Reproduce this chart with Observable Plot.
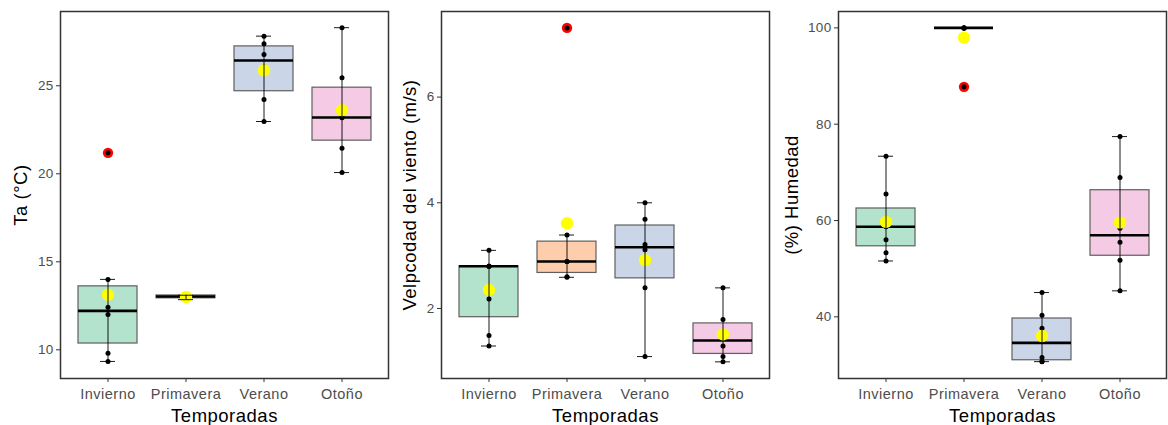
<!DOCTYPE html>
<html>
<head>
<meta charset="utf-8">
<script src="https://cdn.jsdelivr.net/npm/d3@7"></script>
<script src="https://cdn.jsdelivr.net/npm/@observablehq/plot@0.6"></script>
<style>
  html, body { margin: 0; padding: 0; background: #fff; }
  #row { display: flex; flex-direction: row; width: 1168px; height: 425px; }
  svg { font-family: "Liberation Sans", Arial, sans-serif; }
  [aria-label="x-axis tick label"] text { fill: #4d4d4d; font-size: 14.5px; letter-spacing: 0.5px; }
  [aria-label="y-axis tick label"] text { fill: #4d4d4d; font-size: 13.5px; letter-spacing: 0.3px; }
  [aria-label="x-axis tick"] path, [aria-label="y-axis tick"] path { stroke: #333; }
  [aria-label="x-axis label"] text, [aria-label="y-axis label"] text { fill: #000; font-size: 18.5px; letter-spacing: 0.5px; }
</style>
</head>
<body>
<div id="row"></div>
<script>
const seasons = ["Invierno", "Primavera", "Verano", "Otoño"];
const pastel = ["#b3e2cd", "#fdcdac", "#cbd5e8", "#f4cae4"];

// Ta (°C)
const taInvierno = [9.34, 9.81, 12.0, 12.42, 14.0, 21.19];
const taPrimavera = [12.85, 12.9, 13.0, 13.05, 13.1, 13.1];
const taVerano = [22.97, 24.22, 26.1, 26.78, 27.39, 27.82];
const taOtono = [20.07, 21.45, 23.18, 23.22, 25.45, 28.3];

// Velocidad del viento (m/s)
const vvInvierno = [1.29, 1.49, 2.18, 2.8, 2.8, 2.8, 3.1];
const vvPrimavera = [2.59, 2.6, 2.89, 2.89, 3.39, 7.31];
const vvVerano = [1.09, 2.39, 3.11, 3.21, 3.69, 4.0];
const vvOtono = [0.99, 1.09, 1.29, 1.5, 1.79, 2.39];

// Humedad (%)
const huInvierno = [51.6, 53.3, 56.0, 58.7, 59.5, 65.5, 73.35];
const huPrimavera = [87.75, 100, 100, 100, 100, 100];
const huVerano = [30.7, 30.8, 31.55, 37.64, 40.33, 45.05];
const huOtono = [45.4, 51.75, 55.5, 58.4, 68.92, 77.43];

const taTicks = [10, 15, 20, 25];
const vvTicks = [2, 4, 6];
const huTicks = [40, 60, 80, 100];

function build(groups) {
  const raw = [];
  const st = [];
  const out = [];
  seasons.forEach((s, i) => {
    const v = d3.sort(groups[i]);
    v.forEach(y => raw.push({season: s, y}));
    const q1 = d3.quantile(v, 0.25), med = d3.quantile(v, 0.5), q3 = d3.quantile(v, 0.75);
    const iqr = q3 - q1;
    const inside = v.filter(y => y >= q1 - 1.5 * iqr && y <= q3 + 1.5 * iqr);
    const lo = d3.min(inside), hi = d3.max(inside);
    v.filter(y => y < lo || y > hi).forEach(y => out.push({season: s, y}));
    st.push({season: s, q1, med, q3, lo, hi, mean: d3.mean(v)});
  });
  return {raw, st, out};
}

function panel({groups, domain, ticks, label, width, ml, mr, lo}) {
  const {raw, st, out} = build(groups);
  return Plot.plot({
    width, height: 425,
    marginLeft: ml, marginRight: mr, marginTop: 11, marginBottom: 47,
    style: {fontFamily: '"Liberation Sans", Arial, sans-serif', background: "#fff"},
    x: {type: "band", domain: seasons, paddingInner: 0.25, paddingOuter: 0.225},
    y: {domain},
    color: {domain: seasons, range: pastel},
    marks: [
      Plot.barY(st, {x: "season", y1: "q1", y2: "q3", fill: "season", stroke: "#5f5f5f", strokeWidth: 1.2}),
      Plot.tickY(st, {x: "season", y: "med", stroke: "#000", strokeWidth: 2.6}),
      Plot.dot(out, {x: "season", y: "y", r: 5.2, fill: "#ff0000", stroke: "none"}),
      Plot.dot(raw, {x: "season", y: "y", r: 2.5, fill: "#000", stroke: "none"}),
      Plot.dot(st, {x: "season", y: "mean", r: 6.2, fill: "#ffff00", stroke: "none"}),
      Plot.ruleX(st, {x: "season", y1: "lo", y2: "hi", stroke: "#000", strokeWidth: 0.9}),
      Plot.tickY(st, {x: "season", y: "lo", insetLeft: 22, insetRight: 22, stroke: "#000", strokeWidth: 0.9}),
      Plot.tickY(st, {x: "season", y: "hi", insetLeft: 22, insetRight: 22, stroke: "#000", strokeWidth: 0.9}),
      Plot.frame({stroke: "#333", strokeWidth: 1.5}),
      Plot.axisX({tickSize: 4, tickPadding: 6, label: "Temporadas", labelAnchor: "center", labelArrow: "none", labelOffset: 43}),
      Plot.axisY({ticks, tickFormat: d => String(d), tickSize: 4, tickPadding: 3, label, labelAnchor: "center", labelArrow: "none", labelOffset: lo})
    ]
  });
}

const row = document.getElementById("row");
row.append(panel({groups: [taInvierno, taPrimavera, taVerano, taOtono], domain: [8.37, 29.22], ticks: taTicks, label: "Ta (°C)", width: 390, ml: 60, mr: 2, lo: 47}));
row.append(panel({groups: [vvInvierno, vvPrimavera, vvVerano, vvOtono], domain: [0.675, 7.62], ticks: vvTicks, label: "Velpcodad del viento (m/s)", width: 388, ml: 51, mr: 9, lo: 38.5}));
row.append(panel({groups: [huInvierno, huPrimavera, huVerano, huOtono], domain: [27.2, 103.4], ticks: huTicks, label: "(%) Humedad", width: 390, ml: 60, mr: 2, lo: 53.5}));
</script>
</body>
</html>
